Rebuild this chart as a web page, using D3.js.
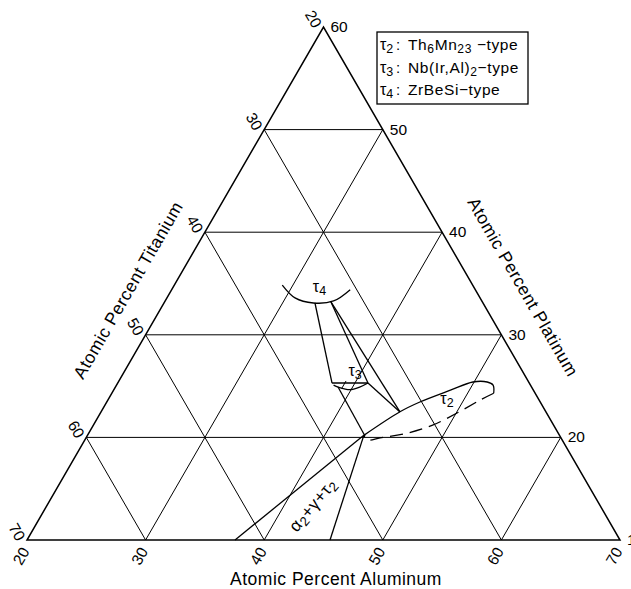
<!DOCTYPE html>
<html>
<head>
<meta charset="utf-8">
<script src="https://cdn.jsdelivr.net/npm/d3@7"></script>
<style>
  body { margin: 0; background: #fff; }
  text { font-family: "Liberation Sans", Arial, sans-serif; fill: #000; }
</style>
</head>
<body>
<script>
// axis ticks (atomic percent)
var alTicks = [20, 30, 40, 50, 60, 70];
var tiTicks = [20, 30, 40, 50, 60, 70];
var ptTicks = [10, 20, 30, 40, 50, 60];
var gridSteps = [30, 40, 50, 60];
var ptGrid = [20, 30, 40, 50];

// phase boundaries, points as [at.% Al, at.% Pt]
var tau4Arc = [[29.1, 34.85], [30.8, 33.6], [32.6, 33.1], [34.2, 33.3], [35.05, 34.4]];
var tau3Top = [[38.07, 25.3], [41.1, 25.3]];
var tau3Arc = [[38.3, 25.1], [38.8, 24.9], [39.9, 24.65], [40.6, 24.9], [41.1, 25.3]];
var tau2Upper = [[43.3, 20.2], [45.2, 22.5], [46.4, 23.45], [48.4, 24.6], [49.9, 25.4], [51.1, 25.4], [51.75, 25.1], [52.2, 24.3]];
var tau2Lower = [[52.2, 24.3], [51.4, 23.65], [50.1, 22.4], [48.6, 21.2], [46.8, 20.4], [44.8, 19.95], [43.8, 19.75], [43.3, 20.2]];
var tieLines = [
  [[32.73, 33.1], [38.07, 25.3]],
  [[34.03, 33.2], [41.1, 25.3]],
  [[34.03, 33.2], [45.21, 22.48]],
  [[38.77, 24.91], [43.43, 20.14]],
  [[41.1, 25.3], [45.21, 22.48]],
  [[43.3, 20.2], [37.54, 10]],
  [[43.3, 20.2], [45.55, 10]]
];

var legendSymbols = [["τ", "2"], ["τ", "3"], ["τ", "4"]];
var legendTypes = [
  [["Th", 0], ["6", 1], ["Mn", 0], ["23", 1], [" −type", 0]],
  [["Nb(Ir,Al)", 0], ["2", 1], ["−type", 0]],
  [["ZrBeSi−type", 0]]
];

var w = 631, h = 589;
var xs = d3.scaleLinear().domain([0, 50]).range([27, 620]);
var ys = d3.scaleLinear().domain([10, 60]).range([540, 27]);

function pos(al, pt) { return [xs(al - 20 + (pt - 10) / 2), ys(pt)]; }

var svg = d3.select("body").append("svg")
  .attr("width", w)
  .attr("height", h);

svg.append("rect").attr("width", w).attr("height", h).attr("fill", "#fff");

var line = d3.line().x(function(d) { return pos(d[0], d[1])[0]; }).y(function(d) { return pos(d[0], d[1])[1]; });
var curve = d3.line().curve(d3.curveCatmullRom.alpha(0.5))
  .x(function(d) { return pos(d[0], d[1])[0]; }).y(function(d) { return pos(d[0], d[1])[1]; });

// grid
var grid = [];
ptGrid.forEach(function(p) { grid.push([[20, p], [80 - p, p]]); });
gridSteps.forEach(function(v) { grid.push([[v, 10], [v, 80 - v]]); });
gridSteps.forEach(function(v) { grid.push([[90 - v, 10], [20, 80 - v]]); });

svg.selectAll("path.grid")
  .data(grid)
  .enter()
  .append("path")
  .attr("class", "grid")
  .attr("d", line)
  .attr("fill", "none")
  .attr("stroke", "#000")
  .attr("stroke-width", 1);

// outline
svg.append("path")
  .attr("d", line([[20, 10], [70, 10], [20, 60]]) + "Z")
  .attr("fill", "none")
  .attr("stroke", "#000")
  .attr("stroke-width", 1.5);

// phase fields
svg.selectAll("path.tie")
  .data(tieLines)
  .enter()
  .append("path")
  .attr("class", "tie")
  .attr("d", line)
  .attr("fill", "none")
  .attr("stroke", "#000")
  .attr("stroke-width", 1.3);

[tau4Arc, tau3Arc, tau2Upper].forEach(function(d) {
  svg.append("path").attr("d", curve(d)).attr("fill", "none").attr("stroke", "#000").attr("stroke-width", 1.3);
});
svg.append("path").attr("d", line(tau3Top)).attr("fill", "none").attr("stroke", "#000").attr("stroke-width", 1.3);
svg.append("path").attr("d", curve(tau2Lower)).attr("fill", "none").attr("stroke", "#000")
  .attr("stroke-width", 1.3).attr("stroke-dasharray", "13,7");

// tick labels
svg.selectAll("text.al")
  .data(alTicks)
  .enter()
  .append("text")
  .attr("class", "al")
  .attr("transform", function(d) { var p = pos(d, 10); return "translate(" + (p[0] - 6) + "," + (p[1] + 16) + ") rotate(-60)"; })
  .attr("text-anchor", "middle")
  .attr("dy", "0.35em")
  .attr("font-size", 15.5)
  .text(function(d) { return d; });

svg.selectAll("text.ti")
  .data(tiTicks)
  .enter()
  .append("text")
  .attr("class", "ti")
  .attr("transform", function(d) { var p = pos(20, 80 - d); return "translate(" + (p[0] - 10) + "," + (p[1] - 8) + ") rotate(60)"; })
  .attr("text-anchor", "middle")
  .attr("dy", "0.35em")
  .attr("font-size", 15.5)
  .text(function(d) { return d; });

svg.selectAll("text.pt")
  .data(ptTicks)
  .enter()
  .append("text")
  .attr("class", "pt")
  .attr("x", function(d) { return pos(80 - d, d)[0] + 7; })
  .attr("y", function(d) { return pos(80 - d, d)[1] + 5; })
  .attr("font-size", 15.5)
  .text(function(d) { return d; });

// axis titles
svg.append("text").attr("x", 336).attr("y", 585).attr("text-anchor", "middle")
  .attr("font-size", 17.5).attr("letter-spacing", 0.5).text("Atomic Percent Aluminum");
svg.append("text").attr("transform", "translate(128,290) rotate(-60)").attr("text-anchor", "middle")
  .attr("dy", "0.35em").attr("font-size", 17.5).attr("letter-spacing", 0.5).text("Atomic Percent Titanium");
svg.append("text").attr("transform", "translate(523,287) rotate(60)").attr("text-anchor", "middle")
  .attr("dy", "0.35em").attr("font-size", 17.5).attr("letter-spacing", 0.5).text("Atomic Percent Platinum");

function richText(sel, parts, size) {
  parts.forEach(function(s) {
    sel.append("tspan")
      .attr("font-size", s[1] ? size * 0.78 : size)
      .attr("baseline-shift", s[1] ? "-25%" : null)
      .text(s[0]);
  });
}

// phase labels
var l4 = pos(32.0, 34.2);
richText(svg.append("text").attr("x", l4[0]).attr("y", l4[1]), [["τ", 0], ["4", 1]], 16);
var l3 = pos(39.1, 26.0);
richText(svg.append("text").attr("x", l3[0]).attr("y", l3[1]), [["τ", 0], ["3", 1]], 16);
var l2 = pos(48.2, 23.3);
richText(svg.append("text").attr("x", l2[0]).attr("y", l2[1]), [["τ", 0], ["2", 1]], 16);
var m3 = pos(39.15, 25.5), m3b = pos(39.15, 24.75);
svg.append("line").attr("x1", m3[0]).attr("y1", m3[1]).attr("x2", m3b[0]).attr("y2", m3b[1])
  .attr("stroke", "#000").attr("stroke-width", 1);

var la = pos(42.4, 13.4);
var lab = svg.append("text").attr("transform", "translate(" + la[0] + "," + la[1] + ") rotate(-50)")
  .attr("text-anchor", "middle").attr("dy", "0.35em").attr("letter-spacing", 0.5);
richText(lab, [["α", 0], ["2", 1], ["+γ+τ", 0], ["2", 1]], 17);

// legend
svg.append("rect").attr("x", 377).attr("y", 32).attr("width", 151).attr("height", 72)
  .attr("fill", "#fff").attr("stroke", "#000").attr("stroke-width", 1.3);
legendSymbols.forEach(function(s, i) {
  var yy = 50 + i * 22.5;
  richText(svg.append("text").attr("x", 380).attr("y", yy), [[s[0], 0], [s[1], 1]], 16);
  svg.append("text").attr("x", 396).attr("y", yy).attr("font-size", 15).text(":");
  richText(svg.append("text").attr("x", 408).attr("y", yy).attr("letter-spacing", 0.6), legendTypes[i], 15.5);
});
</script>
</body>
</html>
